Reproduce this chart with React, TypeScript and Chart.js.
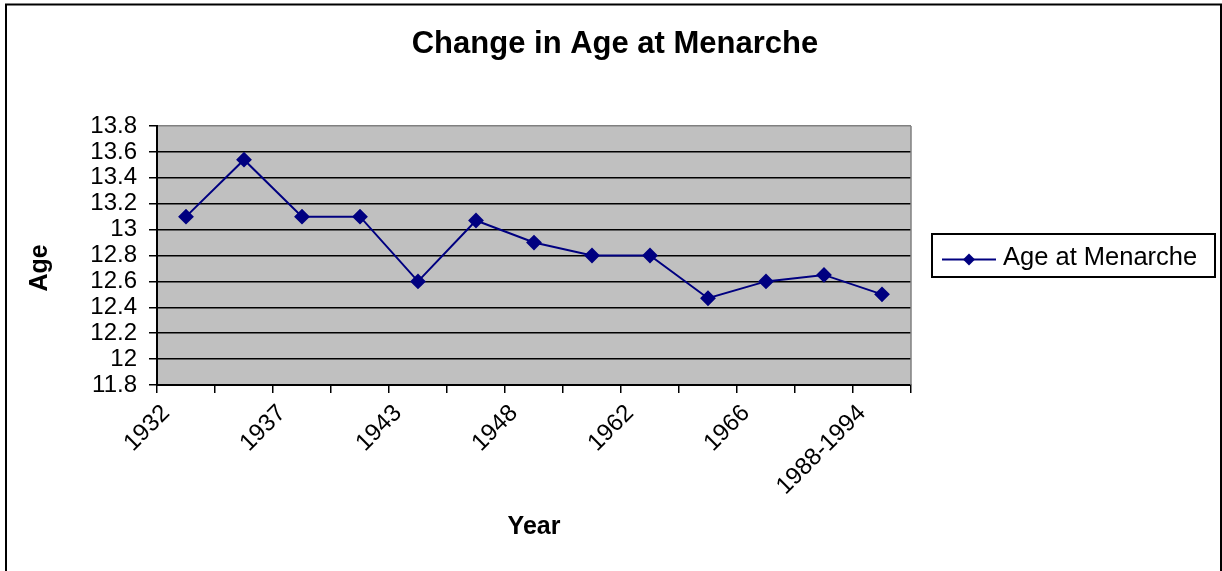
import React, { useEffect, useRef } from "react";
import { Chart, registerables } from "chart.js";

Chart.register(...registerables);

const chartTitle = "Change in Age at Menarche";
const seriesName = "Age at Menarche";
const xTitle = "Year";
const yTitle = "Age";
const categories = ["1932", "", "1937", "", "1943", "", "1948", "", "1962", "", "1966", "", "1988-1994"];
const ages = [13.1, 13.54, 13.1, 13.1, 12.6, 13.07, 12.9, 12.8, 12.8, 12.47, 12.6, 12.65, 12.5];
const yMin = 11.8;
const yMax = 13.8;
const yStep = 0.2;

const FONT = 'Arial, "Liberation Sans", sans-serif';
const NAVY = "#000080";

const decorPlugin = {
  id: "decor",
  beforeDraw(chart: any) {
    const { ctx, chartArea: a, width, height } = chart;
    ctx.save();
    ctx.fillStyle = "#ffffff";
    ctx.fillRect(0, 0, width, height);
    ctx.fillStyle = "#C0C0C0";
    ctx.fillRect(a.left, a.top, a.right - a.left, a.bottom - a.top);
    ctx.restore();
  },
  afterDraw(chart: any) {
    const { ctx, chartArea: a } = chart;
    ctx.save();
    // plot right border (gray)
    ctx.strokeStyle = "#808080";
    ctx.lineWidth = 1.5;
    ctx.beginPath();
    ctx.moveTo(a.right, a.top);
    ctx.lineTo(a.right, a.bottom);
    ctx.stroke();

    // y axis title
    ctx.fillStyle = "#000";
    ctx.font = `bold 25px ${FONT}`;
    ctx.textAlign = "center";
    ctx.textBaseline = "middle";
    ctx.translate(40, 268);
    ctx.rotate(-Math.PI / 2);
    ctx.fillText(yTitle, 0, 0);
    ctx.setTransform(1, 0, 0, 1, 0, 0);

    // legend
    ctx.strokeStyle = "#000";
    ctx.lineWidth = 2;
    ctx.strokeRect(932, 234, 283, 43);
    ctx.strokeStyle = NAVY;
    ctx.lineWidth = 2;
    ctx.beginPath();
    ctx.moveTo(942, 259.5);
    ctx.lineTo(996, 259.5);
    ctx.stroke();
    ctx.fillStyle = NAVY;
    ctx.beginPath();
    ctx.moveTo(969, 253.5);
    ctx.lineTo(975, 259.5);
    ctx.lineTo(969, 265.5);
    ctx.lineTo(963, 259.5);
    ctx.closePath();
    ctx.fill();
    ctx.fillStyle = "#000";
    ctx.font = `25.5px ${FONT}`;
    ctx.textAlign = "left";
    ctx.textBaseline = "alphabetic";
    ctx.fillText(seriesName, 1003, 265);

    // outer frame
    ctx.strokeStyle = "#000";
    ctx.lineWidth = 2;
    ctx.strokeRect(6, 4.5, 1215, 620);
    ctx.restore();
  },
};

export default function App() {
  const ref = useRef<HTMLCanvasElement | null>(null);

  useEffect(() => {
    if (!ref.current) return;
    const chart = new Chart(ref.current, {
      type: "line",
      data: {
        labels: categories,
        datasets: [
          {
            label: seriesName,
            data: ages,
            borderColor: NAVY,
            backgroundColor: NAVY,
            borderWidth: 2,
            pointStyle: "rectRot",
            pointRadius: 6.5,
            pointHoverRadius: 6.5,
            pointBackgroundColor: NAVY,
            pointBorderColor: NAVY,
            tension: 0,
          },
        ],
      },
      options: {
        responsive: false,
        animation: false,
        layout: { padding: { left: 8, top: 6, right: 0, bottom: 0 } },
        plugins: {
          legend: { display: false },
          tooltip: { enabled: false },
          title: {
            display: true,
            text: chartTitle,
            color: "#000",
            font: { family: FONT, size: 31, weight: "bold", lineHeight: 1.2 },
            padding: { top: 20, bottom: 62.8 },
          },
        },
        scales: {
          x: {
            type: "category",
            offset: true,
            afterFit: (s: any) => {
              s.height = 186;
            },
            grid: {
              display: true,
              offset: true,
              drawOnChartArea: false,
              drawTicks: true,
              tickLength: 8,
              tickColor: "#000",
              color: "#000",
              lineWidth: 1.5,
            },
            border: { display: true, color: "#000", width: 2 },
            ticks: {
              autoSkip: false,
              minRotation: 45,
              maxRotation: 45,
              padding: 8,
              labelOffset: -20,
              color: "#000",
              font: { family: FONT, size: 24, lineHeight: 1 },
            },
            title: {
              display: true,
              text: xTitle,
              color: "#000",
              font: { family: FONT, size: 25, weight: "bold", lineHeight: 1.2 },
              padding: { top: 0, bottom: 29 },
            },
          },
          y: {
            type: "linear",
            min: yMin,
            max: yMax,
            afterFit: (s: any) => {
              s.width = 149;
            },
            grid: {
              display: true,
              drawTicks: true,
              tickLength: 8,
              tickColor: "#000",
              lineWidth: 1.5,
              color: (c: any) =>
                c.tick && Math.abs(c.tick.value - yMax) < 1e-6 ? "#808080" : "#000",
            },
            border: { display: true, color: "#000", width: 2 },
            ticks: {
              stepSize: yStep,
              autoSkip: false,
              padding: 12,
              color: "#000",
              font: { family: FONT, size: 24, lineHeight: 1 },
              callback: (v: any) => String(Math.round(Number(v) * 10) / 10),
            },
          },
          legendSpace: {
            type: "linear",
            position: "right",
            display: true,
            afterFit: (s: any) => {
              s.width = 311;
            },
            grid: { display: false, drawTicks: false },
            border: { display: false },
            ticks: { display: false },
          },
        },
      },
      plugins: [decorPlugin],
    });
    return () => chart.destroy();
  }, []);

  return (
    <canvas
      ref={ref}
      width={1222}
      height={571}
      style={{ position: "absolute", left: 0, top: 0, display: "block", width: 1222, height: 571 }}
    />
  );
}
